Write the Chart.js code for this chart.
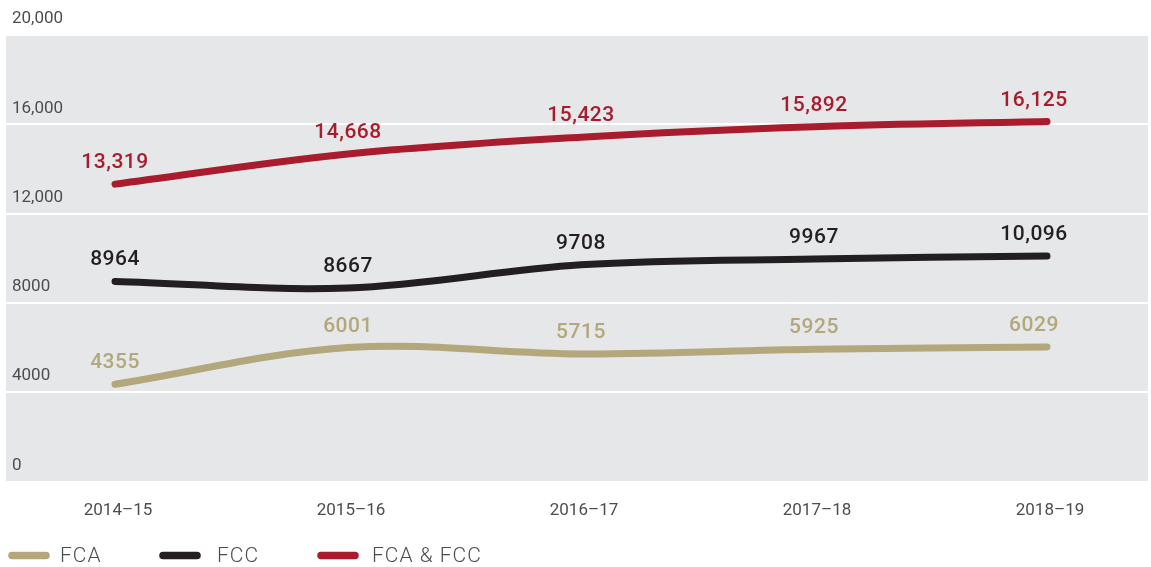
<!DOCTYPE html>
<html>
<head>
<meta charset="utf-8">
<script src="https://cdn.jsdelivr.net/npm/chart.js@4.4.1/dist/chart.umd.min.js"></script>
<style>
  html, body { margin: 0; padding: 0; background: #fff; }
  canvas { display: block; }
</style>
</head>
<body>
<canvas id="chart" width="1151" height="567"></canvas>
<script>
const years = ['2014–15', '2015–16', '2016–17', '2017–18', '2018–19'];
const fca = [4355, 6001, 5715, 5925, 6029];
const fcc = [8964, 8667, 9708, 9967, 10096];
const fcaFcc = [13319, 14668, 15423, 15892, 16125];
const yTicks = [0, 4000, 8000, 12000, 16000, 20000];
const yTickLabels = ['0', '4000', '8000', '12,000', '16,000', '20,000'];

const TAN = '#b3a77c';
const BLACK = '#231f20';
const RED = '#a81c2e';
const PANEL = '#e6e7e8';
const TEXT = '#4d4d4f';
const FONT = 'Roboto, sans-serif';

function fmt(v) {
  return v >= 10000 ? v.toLocaleString('en-US') : String(v);
}

function toPoints(values) {
  return values.map((v, i) => ({ x: i, y: v }));
}

// grey panel behind the plot
const panel = {
  id: 'panel',
  beforeDraw(chart) {
    const { ctx, chartArea: a } = chart;
    ctx.save();
    ctx.fillStyle = PANEL;
    ctx.fillRect(a.left, a.top, a.right - a.left, a.bottom - a.top);
    ctx.restore();
  },
};

// numbers above each point
const valueLabels = {
  id: 'valueLabels',
  afterDatasetsDraw(chart) {
    const ctx = chart.ctx;
    ctx.save();
    ctx.font = '500 21px ' + FONT;
    ctx.letterSpacing = '0.5px';
    ctx.textAlign = 'center';
    ctx.textBaseline = 'alphabetic';
    chart.data.datasets.forEach((ds, di) => {
      const meta = chart.getDatasetMeta(di);
      meta.data.forEach((pt, i) => {
        const shift = i === meta.data.length - 1 ? -13 : 0;
        ctx.fillStyle = ds.borderColor;
        ctx.fillText(fmt(ds.data[i].y), pt.x + shift, pt.y - 16);
      });
    });
    ctx.restore();
  },
};

// legend row along the bottom edge
const legendRow = {
  id: 'legendRow',
  afterDraw(chart) {
    const ctx = chart.ctx;
    const swatchX = [12, 163, 321];
    const textX = [60, 217, 372];
    const y = 555.5;
    ctx.save();
    ctx.lineCap = 'round';
    ctx.lineWidth = 7.5;
    ctx.font = '300 21px ' + FONT;
    ctx.letterSpacing = '1px';
    ctx.textBaseline = 'middle';
    chart.data.datasets.forEach((ds, i) => {
      ctx.strokeStyle = ds.borderColor;
      ctx.beginPath();
      ctx.moveTo(swatchX[i], y);
      ctx.lineTo(swatchX[i] + 34, y);
      ctx.stroke();
      ctx.fillStyle = TEXT;
      ctx.fillText(ds.label, textX[i], y + 1);
    });
    ctx.restore();
  },
};

const lineStyle = {
  borderWidth: 7,
  borderCapStyle: 'round',
  borderJoinStyle: 'round',
  tension: 0.35,
  pointRadius: 0,
  pointHoverRadius: 0,
  fill: false,
};

new Chart(document.getElementById('chart').getContext('2d'), {
  type: 'line',
  data: {
    datasets: [
      { label: 'FCA', data: toPoints(fca), borderColor: TAN, ...lineStyle },
      { label: 'FCC', data: toPoints(fcc), borderColor: BLACK, ...lineStyle },
      { label: 'FCA & FCC', data: toPoints(fcaFcc), borderColor: RED, ...lineStyle },
    ],
  },
  options: {
    responsive: false,
    animation: false,
    layout: { padding: { left: 6, right: 3, top: 35, bottom: 45.5 } },
    scales: {
      x: {
        type: 'linear',
        min: -0.4678,
        max: 4.4335,
        afterBuildTicks: (scale) => {
          scale.ticks = years.map((_, i) => ({ value: i }));
        },
        afterFit: (scale) => { scale.height = 40; },
        ticks: {
          padding: 19,
          labelOffset: 3,
          color: TEXT,
          font: { family: FONT, size: 17 },
          callback: (v) => years[v],
          maxRotation: 0,
          autoSkip: false,
        },
        grid: { display: false, drawTicks: false },
        border: { display: false },
      },
      y: {
        min: 0,
        max: 20000,
        afterBuildTicks: (scale) => {
          scale.ticks = yTicks.map((v) => ({ value: v }));
        },
        afterFit: (scale) => { scale.width = 0; },
        ticks: {
          mirror: true,
          padding: 6,
          labelOffset: -16,
          color: TEXT,
          font: { family: FONT, size: 17 },
          callback: (v) => yTickLabels[yTicks.indexOf(v)],
        },
        grid: { color: '#ffffff', lineWidth: 2, drawTicks: false },
        border: { display: false },
      },
    },
    plugins: {
      legend: { display: false },
      tooltip: { enabled: false },
    },
  },
  plugins: [panel, valueLabels, legendRow],
});
</script>
</body>
</html>
